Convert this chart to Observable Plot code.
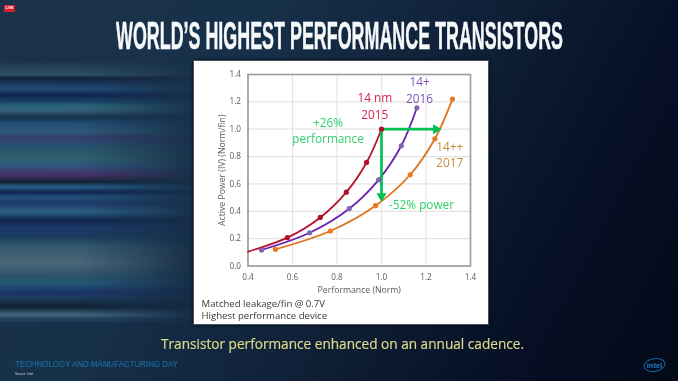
<!DOCTYPE html>
<html>
<head>
<meta charset="utf-8">
<script src="https://cdn.jsdelivr.net/npm/d3@7"></script>
<script src="https://cdn.jsdelivr.net/npm/@observablehq/plot@0.6"></script>
<style>
html,body{margin:0;padding:0;width:678px;height:381px;overflow:hidden;background:#0a1628}
#bg{position:absolute;left:0;top:0;width:678px;height:381px;
 background:linear-gradient(118deg,#1b3348 0%,#17304a 30%,#0e1f36 58%,#060f24 80%,#030919 100%)}
#streaks{position:absolute;left:0;top:60px;width:200px;height:262px;opacity:.85;
 -webkit-mask-image:linear-gradient(90deg,#000 0%,#000 40%,rgba(0,0,0,.55) 68%,rgba(0,0,0,0) 100%);
 mask-image:linear-gradient(90deg,#000 0%,#000 40%,rgba(0,0,0,.55) 68%,rgba(0,0,0,0) 100%)}
#panel{position:absolute;left:194px;top:61px;width:294px;height:263px;background:#fff;box-shadow:0 0 0 1px #4a4f58,0 0 3px 1px #050a18}
#chart{position:absolute;left:0;top:0;filter:blur(.3px)}
.t{position:absolute;white-space:nowrap;transform-origin:0 0;line-height:1}
#live{position:absolute;left:4px;top:5px;width:11px;height:6.5px;background:#d81f30;border-radius:1px;color:#fff;font:bold 3.6px/6.5px "Liberation Sans";text-align:center}
#logo{position:absolute;left:643px;top:357px}
</style>
</head>
<body>
<div id="bg"></div>
<div id="streaks"></div>
<div id="live">LIVE</div>
<div class="t" id="title" data-w="447" style="left:116px;top:15px;font:bold 38px 'Liberation Sans';color:#f6f8fa;-webkit-text-stroke:.5px #f6f8fa">WORLD’S HIGHEST PERFORMANCE TRANSISTORS</div>
<div id="panel"></div>
<div id="chart"></div>
<div class="t" id="cap" data-w="363" style="left:161px;top:334px;font:14.5px 'Open Sans';color:#dcd98c;-webkit-text-stroke:.2px #dcd98c">Transistor performance enhanced on an annual cadence.</div>
<div class="t" id="day" data-w="163" style="left:15px;top:359px;font:9px 'Liberation Sans';color:#1c6c9c;-webkit-text-stroke:.15px #1c6c9c">TECHNOLOGY AND MANUFACTURING DAY</div>
<div class="t" id="src" data-w="19" style="left:15px;top:371px;font:4px 'Liberation Sans';color:#c8d0d8">Source: Intel.</div>
<svg id="logo" width="24" height="16" viewBox="0 0 24 16">
 <ellipse cx="11.5" cy="8" rx="10.5" ry="6.4" transform="rotate(-8 11.5 8)" fill="none" stroke="#17639a" stroke-width="1"/>
 <text x="11.5" y="10.6" text-anchor="middle" font-family="Liberation Sans" font-weight="bold" font-size="7.6" fill="#1c78b8">intel</text>
</svg>
<script>
// Data
const xTicks = [0.4, 0.6, 0.8, 1.0, 1.2, 1.4];
const yTicks = [0, 0.2, 0.4, 0.6, 0.8, 1.0, 1.2, 1.4];

const nm14X = [0.40, 0.577, 0.725, 0.842, 0.933, 1.0];
const nm14Y = [0.105, 0.207, 0.355, 0.54, 0.757, 1.0];
const plusX = [0.461, 0.677, 0.855, 0.987, 1.089, 1.159];
const plusY = [0.117, 0.243, 0.419, 0.63, 0.879, 1.157];
const plus2X = [0.523, 0.77, 0.973, 1.129, 1.24, 1.319];
const plus2Y = [0.122, 0.256, 0.441, 0.667, 0.93, 1.22];

const perfArrowX = [1.0, 1.245];
const perfArrowY = [1.0, 1.0];
const powerArrowX = [1.0, 1.0];
const powerArrowY = [1.0, 0.51];

const labelText = ["14 nm", "2015", "14+", "2016", "14++", "2017", "+26%", "performance", "-52% power"];
const labelX = [0.97, 0.97, 1.171, 1.171, 1.307, 1.307, 0.76, 0.76, 1.18];
const labelY = [1.225, 1.105, 1.34, 1.22, 0.872, 0.752, 1.047, 0.927, 0.446];
const labelKind = ["red", "red", "purple", "purple", "tan", "tan", "green", "green", "green"];

const notes = ["Matched leakage/fin @ 0.7V", "Highest performance device"];

// Colours
const lineColor = {red: "#b5122f", purple: "#6a22ad", orange: "#e0741c"};
const dotColor = {red: "#b0102e", purple: "#8263ad", orange: "#e8791e"};
const textColor = {red: "#dc2450", purple: "#7d55b5", tan: "#c98c3c", green: "#2fd06c"};
const green = "#00c054";

const streakStops = [[0,"#1a3145"],[15,"#34566a"],[18,"#0e1d30"],[23,"#1b3560"],[29,"#23527d"],[35,"#0e2255"],[42,"#1a4a6a"],[45,"#2a6a80"],[50,"#3a6e85"],[57,"#16304a"],[63,"#23517c"],[72,"#33627f"],[77,"#3b3f74"],[87,"#2b5a76"],[98,"#35686f"],[105,"#33608a"],[115,"#50306a"],[122,"#0e1f30"],[127,"#2a6a96"],[132,"#0d2052"],[137,"#255a85"],[143,"#1e3a70"],[152,"#2f6a90"],[160,"#0f2048"],[167,"#1d3a70"],[177,"#1b3f60"],[187,"#3a6278"],[203,"#556f80"],[217,"#2f5a74"],[223,"#27607f"],[232,"#1e3570"],[238,"#1f3c5a"],[247,"#101e30"],[255,"#47708a"],[259,"#22405f"]];
document.getElementById("streaks").style.background =
  "linear-gradient(180deg," + streakStops.map(([p, c]) => `${c} ${p}px`).join(",") + ")";

const rows = (xs, ys) => xs.map((x, i) => ({x, y: ys[i]}));
const labels = labelText.map((t, i) => ({t, x: labelX[i], y: labelY[i], c: textColor[labelKind[i]]}));
const font = "'Open Sans', 'Noto Sans', sans-serif";

const chart = Plot.plot({
  width: 678, height: 381,
  marginLeft: 247.5, marginRight: 208, marginTop: 74, marginBottom: 115.5,
  style: {background: "transparent", fontFamily: font, overflow: "visible"},
  x: {domain: [0.4, 1.4]},
  y: {domain: [0, 1.4]},
  marks: [
    Plot.gridX(xTicks, {stroke: "#e4e4e4", strokeOpacity: 1, strokeWidth: 1.2}),
    Plot.gridY(yTicks, {stroke: "#e4e4e4", strokeOpacity: 1, strokeWidth: 1.2}),
    Plot.frame({stroke: "#9a9a9a", strokeWidth: 1.6}),
    Plot.axisX({ticks: xTicks, tickSize: 0, tickPadding: 8, tickFormat: ".1f", fontSize: 8.2, color: "#5a5a5a", label: null}),
    Plot.axisY({ticks: yTicks, tickSize: 0, tickPadding: 7, tickFormat: ".1f", fontSize: 8.2, color: "#5a5a5a", label: null}),
    Plot.axisX({ticks: [], tickSize: 0, fontSize: 8.7, color: "#5a5a5a",
      label: "Performance (Norm)", labelAnchor: "center", labelArrow: "none", labelOffset: 27}),
    Plot.axisY({ticks: [], tickSize: 0, fontSize: 8.7, color: "#5a5a5a",
      label: "Active Power (IV) (Norm/fin)", labelAnchor: "center", labelArrow: "none", labelOffset: 29}),
    Plot.line(rows(plus2X, plus2Y), {x: "x", y: "y", stroke: lineColor.orange, strokeWidth: 1.8, curve: "catmull-rom"}),
    Plot.line(rows(plusX, plusY), {x: "x", y: "y", stroke: lineColor.purple, strokeWidth: 1.8, curve: "catmull-rom"}),
    Plot.line(rows(nm14X, nm14Y), {x: "x", y: "y", stroke: lineColor.red, strokeWidth: 1.8, curve: "catmull-rom"}),
    Plot.line(rows(perfArrowX, perfArrowY), {x: "x", y: "y", stroke: green, strokeWidth: 2.7}),
    Plot.line(rows(powerArrowX, powerArrowY), {x: "x", y: "y", stroke: green, strokeWidth: 2.7}),
    Plot.dot(rows(perfArrowX.slice(1), perfArrowY.slice(1)), {x: "x", y: "y", symbol: "triangle2", r: 4.8, fill: green, rotate: 90}),
    Plot.dot(rows(powerArrowX.slice(1), powerArrowY.slice(1)), {x: "x", y: "y", symbol: "triangle2", r: 4.8, fill: green, rotate: 180}),
    Plot.dot(rows(plus2X, plus2Y), {x: "x", y: "y", r: 2.6, fill: dotColor.orange}),
    Plot.dot(rows(plusX, plusY), {x: "x", y: "y", r: 2.6, fill: dotColor.purple}),
    Plot.dot(rows(nm14X.slice(1), nm14Y.slice(1)), {x: "x", y: "y", r: 2.6, fill: dotColor.red}),
    Plot.text(labels, {x: "x", y: "y", text: "t", fill: "c", fontSize: 11.8, fontFamily: font}),
    Plot.text([notes[0]], {x: () => 0.4, y: () => 0, text: d => d, dx: -46.5, dy: 37.5, textAnchor: "start", fontSize: 9.6, fill: "#3a3a3a", fontFamily: font}),
    Plot.text([notes[1]], {x: () => 0.4, y: () => 0, text: d => d, dx: -46.5, dy: 49.5, textAnchor: "start", fontSize: 9.6, fill: "#3a3a3a", fontFamily: font})
  ]
});
document.getElementById("chart").appendChild(chart);

// Fit the condensed slide fonts to their measured widths
document.querySelectorAll(".t").forEach(el => {
  const w = el.getBoundingClientRect().width;
  el.style.transform = `scaleX(${+el.dataset.w / w})`;
});
</script>
</body>
</html>
